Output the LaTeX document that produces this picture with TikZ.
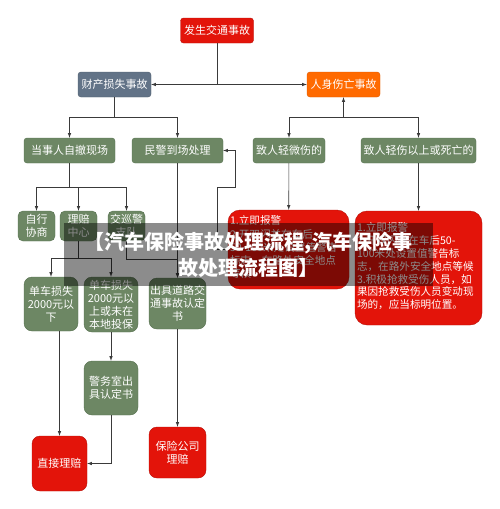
\documentclass[tikz,border=0pt]{standalone}
\usepackage{fontspec}
\setmainfont{Noto Sans CJK SC}
\usepackage{tikz}
\definecolor{accred}{HTML}{E3140A}
\definecolor{slate}{HTML}{627387}
\definecolor{accorange}{HTML}{FF6A00}
\definecolor{boxgreen}{HTML}{6D8764}
\definecolor{boxedge}{HTML}{55704E}
\definecolor{linegray}{HTML}{3A3A3A}
\tikzstyle{box} = [rectangle, draw, text=white, inner sep=0pt, align=center, rounded corners=3pt, font=\fontsize{11}{13}\selectfont]
\tikzstyle{greenbox} = [box, fill=boxgreen, draw=boxedge]
\tikzstyle{redbox} = [box, fill=accred, draw=accred!80!black]
\tikzstyle{notes} = [inner sep=0pt, align=left, text=white, font=\fontsize{10.6}{12.8}\selectfont]
\tikzstyle{line} = [draw=linegray, line width=0.6pt, -latex]

\begin{document}
\begin{tikzpicture}[x=1pt, y=-1pt]
\useasboundingbox (0,0) rectangle (500,509);
\node [redbox, minimum width=73pt, minimum height=25pt] (accident) at (217,30.5) {发生交通事故};
\node [box, fill=slate, draw=slate!80!black, minimum width=73pt, minimum height=25pt] (property) at (114.5,84.5) {财产损失事故};
\node [box, fill=accorange, draw=accorange!85!black, minimum width=73pt, minimum height=25pt] (injury) at (343.5,84.5) {人身伤亡事故};
\node [greenbox, minimum width=91pt, minimum height=25pt] (selfleave) at (69.5,150.5) {当事人自撤现场};
\node [greenbox, minimum width=91pt, minimum height=25pt] (police) at (177.5,150.5) {民警到场处理};
\node [greenbox, minimum width=72pt, minimum height=25pt] (minor) at (289,150.5) {致人轻微伤的};
\node [greenbox, minimum width=115pt, minimum height=25pt] (severe) at (418.5,150.5) {致人轻伤以上或死亡的};
\node [greenbox, rounded corners=5pt, minimum width=37pt, minimum height=30pt] (negotiate) at (36.5,226) {自行\\协商};
\node [greenbox, rounded corners=5pt, minimum width=37pt, minimum height=30pt] (claimcenter) at (78.5,226) {理赔\\中心};
\node [greenbox, rounded corners=5pt, minimum width=37pt, minimum height=30pt] (traffic) at (126.5,226) {交巡警\\支队};
\node [greenbox, rounded corners=8pt, minimum width=54pt, minimum height=54pt] (below2000) at (51,304) {单车损失\\2000元以\\下};
\node [greenbox, rounded corners=8pt, minimum width=54pt, minimum height=55pt] (above2000) at (111,304.5) {单车损失\\2000元以\\上或未在\\本地投保};
\node [greenbox, rounded corners=8pt, minimum width=57pt, minimum height=51pt] (certificate) at (177.5,303.5) {出具道路交\\通事故认定\\书};
\node [greenbox, rounded corners=8pt, minimum width=54pt, minimum height=54pt] (station) at (111,388) {警务室出\\具认定书};
\node [redbox, rounded corners=8pt, minimum width=55pt, minimum height=55pt] (direct) at (59.5,463.5) {直接理赔};
\node [redbox, rounded corners=8pt, minimum width=57pt, minimum height=51pt] (insurer) at (177.5,452.5) {保险公司\\理赔};
\node [redbox, rounded corners=12pt, minimum width=121pt, minimum height=79pt] (minorred) at (288.5,249.5) {};
\node [notes, font=\fontsize{10.6}{13.2}\selectfont, anchor=north west] (minortext) at ([shift={(2pt,-6pt)}]minorred.north west) {1.立即报警\\2.开双闪并在车后\\50-100米处设置值警告\\标志，在路外安全地点\\等候};
\node [redbox, rounded corners=12pt, minimum width=127pt, minimum height=114pt] (severered) at (418.5,268) {};
\node [notes, anchor=north west] (severetext) at ([shift={(2pt,-12pt)}]severered.north west) {1.立即报警\\2.开双闪并在车后50-\\100米处设置值警告标\\志，在路外安全地点等候\\3.积极抢救受伤人员，如\\果因抢救受伤人员变动现\\场的，应当标明位置。};
% Branch points
\coordinate (pbranch) at (114.5,117);
\coordinate (ibranch) at (343.5,117);
\coordinate (sbranch) at (69.5,187);
\coordinate (cbranch) at (78.5,258);
\coordinate (tbranch) at (126.5,259);
\coordinate (back1) at (217,249.5);
\coordinate (back2) at (217,187);
\coordinate (back3) at (235,187);
\coordinate (back4) at (235,150.5);
% Draw the edges
\path [line] (accident.south) |- (property.east);
\path [line] (accident.south) |- (injury.west);
\path [line] (property.south) -- (pbranch) -| (selfleave.north);
\path [line] (property.south) -- (pbranch) -| (police.north);
\path [line] (ibranch) -- (injury.south);
\path [line] (ibranch) -| (minor.north);
\path [line] (ibranch) -| (severe.north);
\path [line] (selfleave.south) -- (sbranch) -| (negotiate.north);
\path [line] (selfleave.south) -- (sbranch) -| (claimcenter.north);
\path [line] (selfleave.south) -- (sbranch) -| (traffic.north);
\path [line] (claimcenter.south) -- (cbranch) -| (below2000.north);
\path [line] (claimcenter.south) -- (cbranch) -| (above2000.north);
\path [line] (traffic.south) -- (tbranch) -| (certificate.north);
\path [line] (police.south) -- (certificate.north);
\path [line] (minor) -- (minorred);
\path [line] (severe) -- (severered);
\path [line] (minorred.west) -- (back1) -- (back2) -- (back3) -- (back4) -- (police.east);
\path [line] (below2000.south -| direct.north) -- (direct.north);
\path [line] (above2000) -- (station);
\path [line] (station.south) |- (direct.east);
\path [line] (certificate) -- (insurer);
% Banner over the chart
\node [fill=black, fill opacity=0.45, text opacity=1, text=white, inner sep=0pt, minimum width=369pt, minimum height=63pt, align=center, font=\fontsize{20}{26}\selectfont\bfseries] (banner) at (248.5,254.5) {【汽车保险事故处理流程,汽车保险事\\故处理流程图】};
\end{tikzpicture}
\end{document}
